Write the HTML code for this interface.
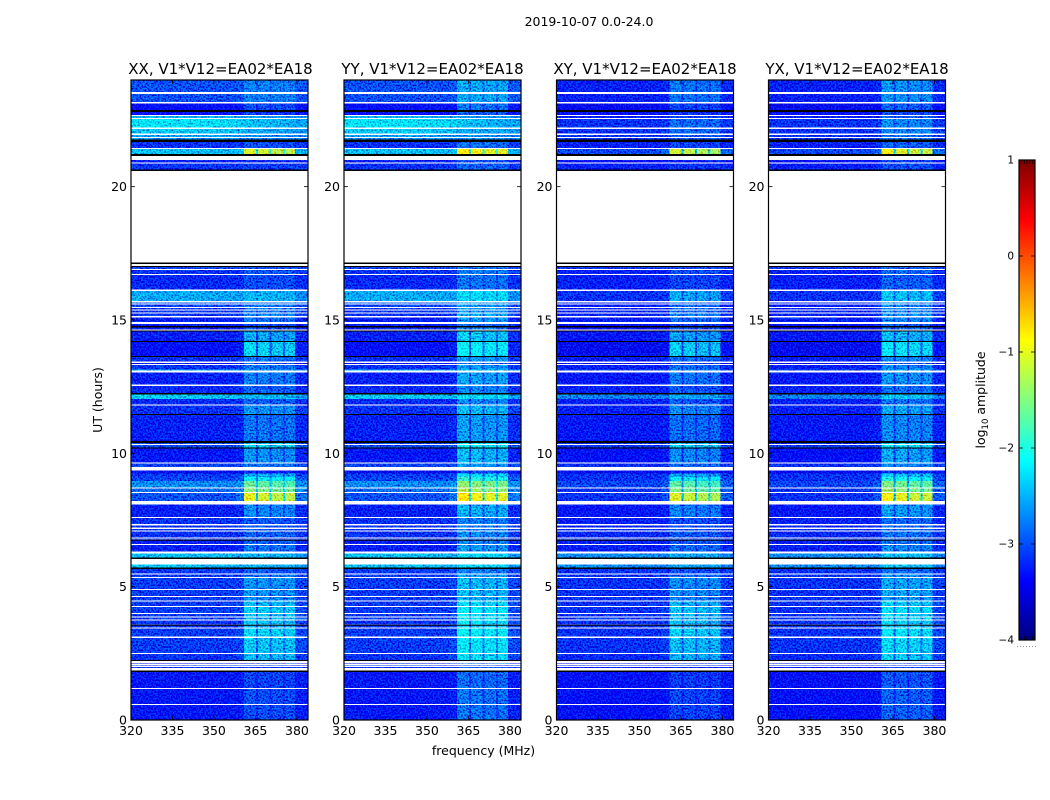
<!DOCTYPE html>
<html lang="en">
<head>
<meta charset="utf-8">
<title>2019-10-07 0.0-24.0</title>
<style>
html,body{margin:0;padding:0;background:#fff;width:1050px;height:800px;overflow:hidden}
svg{display:block}
text{font-family:"DejaVu Sans","Liberation Sans",sans-serif;fill:#000}
</style>
</head>
<body>
<svg id="figure" xmlns="http://www.w3.org/2000/svg" width="1050" height="800" viewBox="0 0 1050 800">
  <defs>
    <filter id="speckle" x="0" y="0" width="100%" height="100%" color-interpolation-filters="sRGB">
      <feTurbulence type="fractalNoise" baseFrequency="0.6" numOctaves="1" seed="7" result="t"/>
      <feColorMatrix in="t" type="matrix" values="0 0 0 0 0.8  1.7 0 0 0 -0.05  1.0 0 0 0 0.3  0 0 0 0 1" result="n"/>
      <feComposite in="SourceGraphic" in2="n" operator="arithmetic" k1="0" k2="1" k3="1" k4="-0.8" result="m"/>
      <feComposite in="m" in2="SourceAlpha" operator="in"/>
    </filter>
  </defs>
  <text x="589" y="26" font-size="12.5" text-anchor="middle">2019-10-07 0.0-24.0</text>
  <text x="483.5" y="755" font-size="12.5" text-anchor="middle">frequency (MHz)</text>
  <text x="0" y="0" font-size="12.5" text-anchor="middle" transform="translate(102,400) rotate(-90)">UT (hours)</text>
  <text x="0" y="0" font-size="12.5" text-anchor="middle" transform="translate(985,400) rotate(-90)">log<tspan font-size="8.5" dy="3">10</tspan><tspan dy="-3"> amplitude</tspan></text>
</svg>
<script>
// ---- chart data (UT in hours, frequency in MHz, amplitude in log10) ----
const panelTitles = ["XX, V1*V12=EA02*EA18","YY, V1*V12=EA02*EA18","XY, V1*V12=EA02*EA18","YX, V1*V12=EA02*EA18"];
const panelIsCross = [false,false,true,true];
const panelRfiOffset = [0,0.2,-0.05,0.1];
const freqTicks = [320,335,350,365,380];
const utTicks = [0,5,10,15,20];
const colorTicks = [1,0,-1,-2,-3,-4];
const colorTickLabels = ["1","0","\u22121","\u22122","\u22123","\u22124"];
const freqEdges = [320,335,345,352,358,360.8,365.2,365.9,370,370.8,374.9,375.7,379.3,384];
const rfiWeight = [0,0,0,0,0.08,1,0.3,0.95,0.35,0.9,0.4,0.9,0.1];
const bandTilt = [1,1,0.95,0.9,0.8,0.7,0.7,0.65,0.65,0.6,0.6,0.55,0.5];
const bandTop = [24,23.475,23.119,22.8,22.65,22.538,22.163,21.938,21.825,21.675,21.413,21,20.869,
 16.988,16.875,16.688,16.088,15.656,15.581,15.45,15.356,15.244,15.094,14.85,14.719,14.569,14.175,
 13.613,13.388,13.313,13.144,13.031,12.525,12.206,12.038,11.794,11.438,10.388,10.313,10.181,
 9.619,9.356,9.244,9.113,8.963,8.681,8.513,8.081,7.575,7.286,7.163,7.061,6.799,6.724,6.563,6.251,
 5.831,5.663,5.464,5.325,4.875,4.613,4.451,4.238,3.975,3.836,3.724,3.536,3.424,3.075,2.475,
 2.126,2.063,1.988,1.8,1.163,0.563];
const bandBottom = [23.55,23.175,22.875,22.688,22.575,22.219,21.994,21.863,21.769,21.45,21.225,20.906,20.644,
 16.913,16.725,16.144,15.713,15.619,15.488,15.394,15.281,15.15,14.925,14.775,14.644,14.213,13.65,
 13.444,13.35,13.144,13.106,12.581,12.263,12.038,11.831,11.475,10.463,10.35,10.219,9.656,
 9.488,9.244,9.113,8.963,8.719,8.55,8.213,7.613,7.35,7.219,7.099,6.851,6.761,6.6,6.311,6.094,
 5.719,5.501,5.363,4.913,4.65,4.489,4.275,4.013,3.874,3.776,3.574,3.476,3.124,2.513,2.25,
 2.1,2.036,1.95,1.2,0.6,0];
const baseParallel = [-3,-3,-3.35,-3.35,-2.5,-2.25,-2.4,-2.6,-2.7,-3.15,-2.45,-3.25,-3.15,
 -3.05,-3.15,-3.2,-2.55,-2.95,-3.05,-3.15,-3.15,-3.15,-3.25,-3.25,-3.25,-3.25,-3.35,
 -3.15,-3.35,-3.15,-2.5,-3.25,-3.2,-2.4,-3.2,-3.15,-3.25,-3.05,-3.05,-3.3,
 -3.05,-3.45,-3.1,-3.05,-2.7,-2.85,-3,-3.25,-3.15,-3.15,-3.15,-3.15,-3.15,-3.25,-3.25,-2.45,
 -2.45,-3.1,-3.1,-3.1,-3.1,-3.1,-3.1,-3.1,-3.1,-3.1,-3.15,-3.15,-3.1,-3.1,-3.15,
 -3.35,-3.15,-3.15,-3.3,-3.3,-3.3];
const baseCross = [-3.25,-3.25,-3.45,-3.35,-3.25,-3.15,-3.15,-3.15,-3.15,-3.25,-3.05,-3.35,-3.25,
 -3.15,-3.25,-3.25,-3.15,-3.25,-3.25,-3.25,-3.25,-3.25,-3.25,-3.35,-3.35,-3.3,-3.45,
 -3.25,-3.35,-3.25,-3.05,-3.3,-3.25,-2.75,-3.25,-3.25,-3.3,-3.15,-3.15,-3.35,
 -3.15,-3.45,-3.15,-3.15,-3.05,-3.15,-3.15,-3.3,-3.25,-3.25,-3.15,-3.2,-3.15,-3.25,-3.25,-2.7,
 -2.7,-3.15,-3.15,-3.15,-3.15,-3.15,-3.15,-3.15,-3.15,-3.15,-3.15,-3.15,-3.15,-3.15,-3.2,
 -3.35,-3.25,-3.25,-3.35,-3.35,-3.35];
const rfiLevel = [-2.75,-2.75,-3,-3.1,-3,-2.8,-2.8,-2.9,-2.9,-3,-1.05,-3.2,-3.1,
 -3,-2.95,-3,-2.5,-2.8,-2.8,-2.8,-2.8,-2.7,-2.8,-3,-2.9,-2.55,-2.3,
 -2.8,-3,-2.8,-2.6,-2.75,-2.9,-2.5,-2.9,-2.65,-2.8,-2.4,-2.3,-2.65,
 -2.8,-3.2,-2.5,-2.1,-1.6,-1.45,-1,-2.7,-2.95,-2.95,-2.95,-2.9,-3,-2.9,-2.8,-2.5,
 -2.5,-2.95,-2.8,-2.65,-2.65,-2.7,-2.45,-2.35,-2.4,-2.4,-2.4,-2.5,-2.3,-2.4,-2.45,
 -3.1,-3.1,-3.1,-3.05,-3,-3];
const blackBandTop = [22.875,21.769,21.225,20.644,17.156,17.025,14.775,14.606,14.213,13.65,12.263,11.475,10.463,10.219,6.761,6.094,5.719,3.574,2.25,1.856];
const blackBandBottom = [22.8,21.675,21.15,20.588,17.1,16.988,14.719,14.569,14.175,13.613,12.206,11.438,10.388,10.181,6.724,6.038,5.663,3.536,2.213,1.8];

// ---- layout ----
const svgNS = "http://www.w3.org/2000/svg";
const figure = document.getElementById("figure");
const panelLeft = [131,344,556.5,768.5];
const panelWidth = 177, plotTop = 80, plotBottom = 720;
const freqMin = 320, freqMax = 384, utMin = 0, utMax = 24;
const cbLeft = 1019, cbWidth = 16, cbTop = 160, cbBottom = 640, cbMin = -4, cbMax = 1;

function mk(tag, attrs, parent){
  const e = document.createElementNS(svgNS, tag);
  for (const k in attrs) e.setAttribute(k, attrs[k]);
  parent.appendChild(e);
  return e;
}
function xScale(left, f){ return left + (f - freqMin) / (freqMax - freqMin) * panelWidth; }
function yScale(ut){ return plotBottom - (ut - utMin) / (utMax - utMin) * (plotBottom - plotTop); }
function cScale(v){ return cbBottom - (v - cbMin) / (cbMax - cbMin) * (cbBottom - cbTop); }
function jet(t){
  t = Math.max(0, Math.min(1, t));
  const c = x => Math.round(255 * Math.max(0, Math.min(1, x)));
  const r = 1.5 - Math.abs(4 * t - 3);
  const g = 1.5 - Math.abs(4 * t - 2);
  const b = 1.5 - Math.abs(4 * t - 1);
  return "rgb(" + c(r) + "," + c(g) + "," + c(b) + ")";
}
function cellValue(base, rfi, col){
  let v = base > -2.9 ? -2.9 + (base + 2.9) * bandTilt[col] : base;
  if (rfi > v) v = v + rfiWeight[col] * (rfi - v);
  return v;
}

// ---- panels ----
panelTitles.forEach(function(title, p){
  const left = panelLeft[p];
  const g = mk("g", {}, figure);
  
  

  const heat = mk("g", {filter: "url(#speckle)", "shape-rendering": "crispEdges"}, g);
  
  
  const bases = panelIsCross[p] ? baseCross : baseParallel;
  bandTop.forEach(function(top, i){
    for (let c = 0; c < freqEdges.length - 1; c++){
      const x0 = xScale(left, freqEdges[c]), x1 = xScale(left, freqEdges[c + 1]);
      const y0 = yScale(top), y1 = yScale(bandBottom[i]);
      const v = cellValue(bases[i], rfiLevel[i] + panelRfiOffset[p], c);
      const r = mk("rect", {x: x0, y: y0, width: x1 - x0, height: y1 - y0, fill: jet((v - cbMin) / (cbMax - cbMin))}, heat);
      
      
    }
  });

  blackBandTop.forEach(function(top, i){
    const y0 = yScale(top), y1 = yScale(blackBandBottom[i]);
    const r = mk("rect", {x: left, y: y0, width: panelWidth, height: y1 - y0, fill: "#000"}, g);
    
    
  });

  freqTicks.forEach(function(f){
    const x = xScale(left, f);
    const t1 = mk("line", {x1: x, x2: x, y1: plotBottom, y2: plotBottom - 4, stroke: "#000", "stroke-width": 0.8}, g);
    
    
    const t2 = mk("line", {x1: x, x2: x, y1: plotTop, y2: plotTop + 4, stroke: "#000", "stroke-width": 0.8}, g);
    
    
    const lab = mk("text", {x: x, y: plotBottom + 15, "font-size": 12.5, "text-anchor": "middle"}, g);
    lab.textContent = String(f);
    
    
  });
  utTicks.forEach(function(u){
    const y = yScale(u);
    const t1 = mk("line", {x1: left, x2: left + 4, y1: y, y2: y, stroke: "#000", "stroke-width": 0.8}, g);
    
    
    const t2 = mk("line", {x1: left + panelWidth, x2: left + panelWidth - 4, y1: y, y2: y, stroke: "#000", "stroke-width": 0.8}, g);
    
    
    const lab = mk("text", {x: left - 4, y: y + 4.5, "font-size": 12.5, "text-anchor": "end"}, g);
    lab.textContent = String(u);
    
    
  });

  const frame = mk("rect", {x: left, y: plotTop, width: panelWidth, height: plotBottom - plotTop, fill: "none", stroke: "#000", "stroke-width": 1.2}, g);
  
  

  const tt = mk("text", {x: left + panelWidth / 2 + (p === 0 ? 1 : 0), y: 74, "font-size": 15, "text-anchor": "middle"}, g);
  tt.textContent = title;
  
  
});

// ---- colorbar ----
const cb = mk("g", {}, figure);


const cbSteps = 256;
const cbRamp = mk("g", {"shape-rendering": "crispEdges"}, cb);


for (let i = 0; i < cbSteps; i++){
  const v0 = cbMin + (cbMax - cbMin) * i / cbSteps;
  const v1 = cbMin + (cbMax - cbMin) * (i + 1) / cbSteps;
  const s = mk("rect", {x: cbLeft, y: cScale(v1), width: cbWidth, height: cScale(v0) - cScale(v1) + 0.5, fill: jet((i + 0.5) / cbSteps)}, cbRamp);
  
  
}
colorTicks.forEach(function(v, i){
  const y = cScale(v);
  const t1 = mk("line", {x1: cbLeft, x2: cbLeft + 4, y1: y, y2: y, stroke: "#000", "stroke-width": 0.8}, cb);
  
  
  const t2 = mk("line", {x1: cbLeft + cbWidth, x2: cbLeft + cbWidth - 4, y1: y, y2: y, stroke: "#000", "stroke-width": 0.8}, cb);
  
  
  const lab = mk("text", {x: cbLeft - 5, y: y + 3.5, "font-size": 10.5, "text-anchor": "end"}, cb);
  lab.textContent = colorTickLabels[i];
  
  
});
for (let i = 1; i < 6; i++){
  const x = cbLeft + i * cbWidth / 6;
  const a = mk("line", {x1: x, x2: x, y1: cbTop, y2: cbTop + 4, stroke: "#000", "stroke-width": 0.7}, cb);
  
  
  const b = mk("line", {x1: x, x2: x, y1: cbBottom, y2: cbBottom - 4, stroke: "#000", "stroke-width": 0.7}, cb);
  
  
}
for (let i = 0; i < 7; i++){
  const d = mk("rect", {x: cbLeft - 2 + i * 3, y: 646, width: 1, height: 1, fill: "#999"}, cb);
  
  
}
const cbFrame = mk("rect", {x: cbLeft, y: cbTop, width: cbWidth, height: cbBottom - cbTop, fill: "none", stroke: "#000", "stroke-width": 1.2}, cb);


</script>
</body>
</html>
